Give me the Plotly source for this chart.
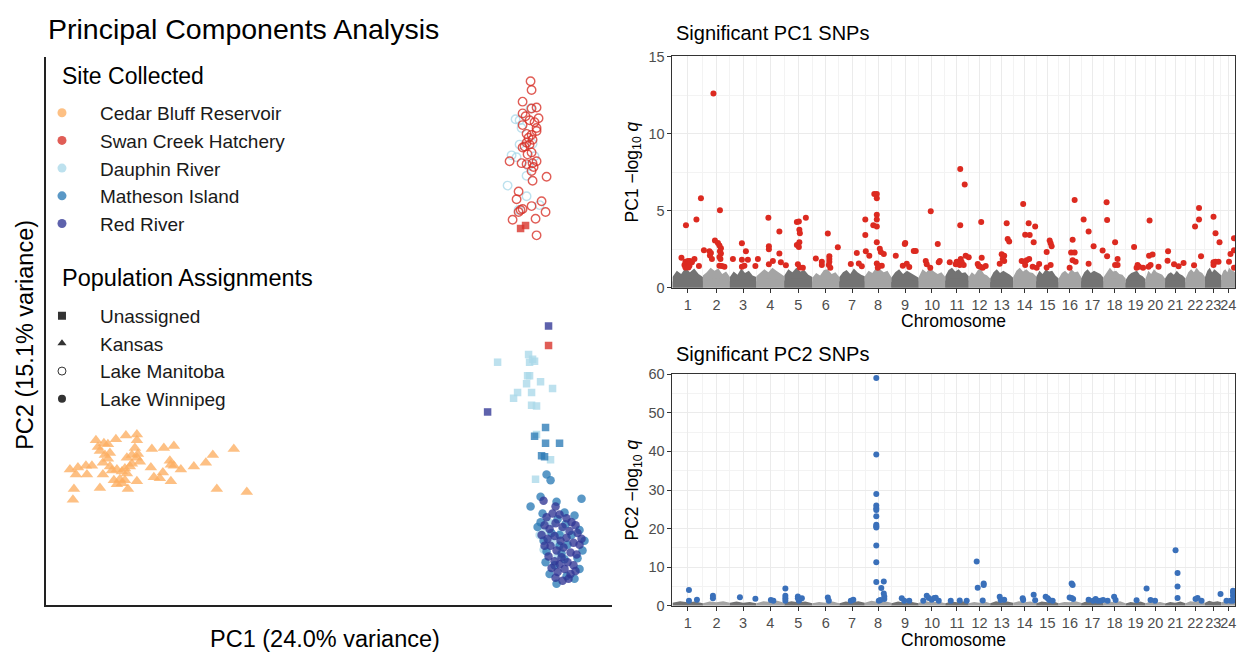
import numpy as np
import plotly.graph_objects as go

FONT = "Liberation Sans"
W, H = 1239, 660

# ---------------- PCA scores (arbitrary units) ----------------
site_names = ["Cedar Bluff Reservoir", "Swan Creek Hatchery", "Dauphin River",
              "Matheson Island", "Red River"]
site_colors = ["#FDAE61", "#D73027", "#ABD9E9", "#2C7BB6", "#313695"]
pop_names = ["Unassigned", "Kansas", "Lake Manitoba", "Lake Winnipeg"]
pop_symbols = ["square", "triangle-up", "circle-open", "circle"]

# Kansas / Cedar Bluff Reservoir
kansas_cedar_pc1 = [96, 104, 98, 108, 100, 105, 110, 108, 103, 110,
                    116, 126, 137, 137, 135, 138, 137, 140,
                    152, 164, 174, 234, 213, 206, 194, 181, 170, 171, 174,
                    151, 163, 154, 160, 171, 137, 128, 100, 74, 73, 217, 247,
                    70, 78, 86, 92, 76, 87, 103,
                    112, 117, 122, 125, 127, 130, 132,
                    114, 120, 125, 117, 122, 127, 132]
kansas_cedar_pc2 = [-443, -446, -450, -447, -454, -458, -456, -462, -466, -470,
                    -442, -438, -437, -443, -451, -457, -461, -465,
                    -452, -451, -449, -452, -458, -466, -470, -473, -464, -468, -469,
                    -471, -476, -481, -482, -485, -485, -493, -492, -493, -504, -493, -496,
                    -473, -471, -469, -469, -478, -478, -478,
                    -474, -473, -475, -472, -477, -470, -467,
                    -484, -483, -484, -488, -487, -461, -458]

# Lake Manitoba
manitoba_swan_pc1 = [531, 532, 523, 537, 532, 523, 526, 530, 539, 535,
                     523, 537, 537, 532, 527, 525, 523, 530, 532, 528,
                     537, 533, 534, 532, 510, 522, 527, 547, 533, 519,
                     517, 542, 532, 546, 523, 521, 519, 513, 536, 537,
                     533, 529, 527]
manitoba_swan_pc2 = [-75, -84, -96, -102, -103, -108, -111, -115, -113, -117,
                     -120, -123, -126, -130, -129, -142, -143, -140, -148, -150,
                     -157, -159, -163, -167, -157, -159, -160, -173, -177, -188,
                     -196, -198, -203, -209, -206, -207, -209, -217, -216, -233,
                     -135, -133, -138]
manitoba_dauphin_pc1 = [516, 520, 522, 531, 520, 533, 512, 517, 535, 527, 508, 527, 540, 519, 529]
manitoba_dauphin_pc2 = [-114, -115, -123, -103, -140, -139, -151, -153, -152, -172,
                        -182, -193, -202, -207, -162]

# Unassigned
unassigned_swan_pc1 = [521, 526, 549]
unassigned_swan_pc2 = [-226, -223, -346]
unassigned_red_pc1 = [549, 488]
unassigned_red_pc2 = [-326, -414]
unassigned_dauphin_pc1 = [498, 529, 533, 535, 530, 528, 530, 527, 541, 553, 518, 514,
                          532, 532, 537, 537, 551, 536]
unassigned_dauphin_pc2 = [-363, -355, -360, -362, -363, -377, -377, -385, -383, -390, -394, -400,
                          -394, -407, -408, -437, -463, -483]
unassigned_matheson_pc1 = [546, 535, 546, 560, 542, 545]
unassigned_matheson_pc2 = [-430, -439, -446, -446, -459, -460]

# Lake Winnipeg
winnipeg_matheson_pc1 = [547, 551, 541, 557, 531, 582, 565, 543, 558, 575, 541, 566, 580,
                         552, 572, 585, 544, 560, 568, 583, 547, 562, 578, 546, 555, 580,
                         550, 567, 575, 560, 565, 557, 538]
winnipeg_matheson_pc2 = [-478, -484, -501, -506, -511, -503, -517, -518, -524, -520, -527, -529, -535,
                         -538, -540, -546, -546, -551, -550, -556, -557, -559, -564, -568, -571, -575,
                         -580, -582, -585, -540, -565, -590, -532]
winnipeg_red_pc1 = [544, 556, 547, 553, 560, 567, 572, 576, 545, 550, 556, 563, 570, 578,
                    542, 548, 555, 561, 567, 574, 580, 551, 557, 564, 571, 577, 549, 555,
                    562, 568, 574, 552, 558, 565, 571, 556, 563, 569, 576, 545, 582, 560]
winnipeg_red_pc2 = [-505, -511, -522, -518, -519, -523, -527, -530, -530, -534, -528, -532, -536, -538,
                    -540, -544, -541, -546, -543, -548, -550, -551, -556, -553, -558, -560, -562, -567,
                    -563, -568, -571, -574, -578, -575, -580, -584, -587, -585, -577, -551, -544, -570]
winnipeg_dauphin_pc1 = [540, 545, 553, 550, 556, 548, 562, 558, 544]
winnipeg_dauphin_pc2 = [-540, -536, -528, -545, -548, -526, -536, -561, -555]

# ---------------- genome layout (Mb) ----------------
chrom_labels = [str(i) for i in range(1, 25)]
chrom_len = [61, 54, 53, 56, 56, 54, 51, 53, 55, 53, 47, 43,
             46, 46, 45, 45, 45, 44, 40, 39, 41, 39, 33, 27]

# PC1: significant SNPs (cumulative position, -log10 q)
pc1_sig_pos = [57, 27, 48, 95, 82, 18, 26, 31, 35, 39, 24, 29, 34, 26, 32, 44, 53, 63,
               85, 91, 94, 97, 95, 97, 94, 96, 77, 74, 75, 79,
               94, 99, 104, 121, 139, 147, 139, 151, 139, 144, 171, 166,
               192, 193, 193, 214, 214, 193, 201, 217, 227,
               249, 253, 254, 255, 249, 254, 253, 251, 255, 261,
               267, 287, 299, 299, 311, 314, 314, 314, 313, 316,
               331, 357, 369, 373, 379, 386, 386, 387, 394,
               404, 409, 409, 409, 402, 409, 409, 409, 415, 417, 423, 409, 414, 411, 419,
               447, 461, 465, 466, 469, 474, 483, 487, 507, 509, 516, 517, 531, 533, 535, 555, 567,
               576, 576, 585, 573, 577, 579, 575, 583, 569, 587, 593,
               611, 619, 616, 627, 621, 613, 618,
               655, 659, 664, 664, 661, 669, 671, 674,
               702, 706, 715, 713, 726, 723, 699, 704, 709, 714, 706, 721, 729, 734,
               749, 755, 757, 759, 749, 757,
               795, 801, 798, 805, 801, 807, 805,
               823, 833, 833, 843, 861, 869, 870, 870, 886, 891, 886, 891,
               924, 931, 929, 934, 942, 953, 957, 954, 961, 955, 973,
               991, 992, 1004, 1013, 1023, 1044, 1046, 1054, 1054, 1058,
               1083, 1087, 1083, 1083, 1087, 1095, 1093, 1114, 1117, 1124, 1124, 1124]
pc1_sig_q = [5.80, 4.05, 4.43, 5.02, 12.6, 1.94, 1.69, 1.73, 1.73, 1.65, 1.48, 1.37, 1.43, 1.32, 1.32, 1.86, 1.41, 2.43,
             3.06, 2.91, 2.74, 2.57, 2.36, 2.22, 2.00, 1.86, 2.26, 2.36, 2.10, 1.86,
             1.43, 1.41, 1.37, 1.86, 2.89, 2.36, 1.81, 1.81, 1.37, 1.43, 1.86, 1.41,
             4.54, 2.70, 2.49, 3.65, 2.22, 1.52, 1.73, 1.65, 1.46,
             4.26, 4.30, 3.76, 3.54, 2.78, 2.95, 2.64, 1.52, 1.31, 1.30,
             4.54, 1.90, 1.69, 1.48, 3.52, 2.05, 1.86, 1.69, 1.48, 1.30,
             2.62, 1.54, 2.26, 1.58, 1.39, 4.43, 3.42, 2.36, 2.07,
             6.08, 6.08, 5.80, 4.73, 4.05, 3.97, 4.43, 2.95, 2.53, 2.32, 2.19, 1.58, 1.43, 1.30, 1.43,
             2.07, 1.43, 2.83, 2.91, 1.56, 1.35, 2.38, 2.38, 1.73, 1.52, 1.30, 4.96, 2.83, 1.65, 1.73, 1.65, 1.52,
             4.05, 7.70, 6.69, 1.65, 1.86, 1.65, 1.48, 1.48, 1.69, 2.07, 1.98,
             1.54, 1.94, 1.37, 1.41, 1.30, 1.41, 4.26,
             1.56, 2.17, 2.07, 1.73, 1.86, 4.18, 3.16, 3.00,
             5.44, 3.44, 3.42, 4.18, 3.97, 2.95, 1.73, 1.69, 1.79, 1.86, 1.48, 1.37, 1.30, 1.54,
             2.32, 3.06, 2.89, 2.70, 1.31, 1.48,
             1.30, 3.12, 2.28, 2.28, 1.79, 1.69, 5.70,
             4.43, 3.65, 1.56, 2.70, 2.41, 5.55, 4.39, 2.05, 2.95, 1.86, 1.48, 1.48,
             2.64, 1.48, 1.30, 1.37, 1.30, 1.37, 1.48, 2.07, 2.15, 4.37, 1.37,
             1.75, 2.36, 1.52, 1.39, 1.60, 1.46, 3.97, 4.43, 5.17, 2.05,
             1.65, 1.69, 1.48, 4.60, 3.54, 2.95, 1.69, 1.69, 2.19, 2.43, 3.21, 1.30]

# PC2: significant SNPs
pc2_sig_pos = [33, 33, 49, 81, 81, 135, 166, 197, 202, 226, 226, 226, 226, 251, 251, 255, 259, 253,
               311, 313, 357, 362,
               408, 408, 408, 408, 408, 408, 408, 408, 408, 408, 408, 408, 408,
               423, 418, 423, 424, 424, 413, 416,
               459, 464, 474, 502, 509, 513, 519, 524, 527, 533, 557,
               575, 589, 609, 611, 623, 623, 621, 655, 657, 664, 701, 702, 723, 726,
               747, 751, 754, 761, 795, 799, 802, 799, 801, 833, 842, 847, 851, 857, 862, 871,
               884, 887, 929, 949, 957, 966, 1007, 1011, 1011, 1011, 1047, 1051, 1059,
               1097, 1109, 1117, 1122, 1122, 1122, 1122]
pc2_sig_q = [4.1, 1.35, 1.6, 2.6, 1.94, 2.2, 1.85, 1.52, 1.35, 4.47, 2.6, 1.94, 1.35, 2.44, 1.94, 1.77, 1.94, 1.35,
             2.19, 1.35, 1.35, 1.6,
             59.0, 39.2, 29.0, 26.0, 25.3, 24.8, 23.2, 21.0, 20.6, 20.3, 15.6, 11.3, 6.2,
             6.3, 4.6, 3.2, 2.44, 1.77, 1.35, 1.52,
             1.94, 1.35, 1.35, 1.35, 2.6, 2.02, 1.6, 2.02, 2.1, 1.35, 1.35,
             1.4, 1.35, 11.5, 4.7, 5.8, 5.4, 1.4, 2.36, 1.52, 1.6, 1.94, 1.52, 2.86, 1.43,
             2.36, 1.94, 1.52, 1.35, 2.19, 2.02, 1.77, 5.8, 5.4, 1.6, 1.35, 1.77, 1.35, 1.35, 1.52, 1.35,
             2.36, 1.52, 1.43, 4.5, 1.52, 1.35, 14.4, 8.5, 5.0, 2.02, 1.77, 2.02, 1.35,
             3.1, 1.35, 1.35, 2.6, 3.45, 3.9, 1.35]

# Non-significant SNP cloud per chromosome (-log10 q): ragged upper edge and dense core
pc1_grey_upper = [
    [0.7, 1.1, 0.9, 1.3, 1.0, 1.25, 0.9, 0.7], [0.8, 1.0, 1.3, 1.1, 1.25, 0.9, 1.05, 0.7],
    [0.7, 1.05, 0.85, 1.25, 0.95, 1.1, 0.8, 0.7], [0.75, 0.95, 1.2, 1.0, 1.3, 1.1, 0.9, 0.75],
    [0.8, 1.2, 1.0, 1.3, 1.05, 1.15, 0.85, 0.7], [0.65, 0.95, 0.8, 1.15, 1.2, 0.9, 1.0, 0.7],
    [0.7, 1.0, 1.15, 0.9, 1.25, 1.0, 0.85, 0.75], [0.75, 1.1, 0.95, 1.3, 1.2, 1.0, 1.1, 0.7],
    [0.65, 1.0, 1.2, 0.9, 1.1, 0.95, 0.85, 0.65], [0.7, 1.2, 1.0, 1.3, 1.05, 0.9, 1.0, 0.7],
    [0.75, 1.15, 1.3, 1.05, 1.2, 0.95, 1.0, 0.75], [0.7, 1.0, 0.85, 1.15, 1.2, 0.9, 0.8, 0.6],
    [0.6, 1.0, 1.2, 0.95, 1.1, 1.0, 0.85, 0.65], [0.7, 1.1, 1.3, 1.05, 1.2, 1.0, 0.95, 0.75],
    [0.7, 1.1, 0.9, 1.2, 1.05, 1.1, 0.8, 0.6], [0.6, 0.95, 1.1, 0.9, 1.2, 1.0, 1.05, 0.7],
    [0.6, 1.0, 1.2, 0.95, 1.1, 1.0, 0.9, 0.65], [0.7, 1.0, 1.3, 1.05, 1.1, 0.9, 0.85, 0.6],
    [0.5, 0.8, 0.95, 1.0, 1.1, 0.85, 0.75, 0.55], [0.6, 1.1, 0.9, 1.2, 1.0, 0.9, 0.85, 0.6],
    [0.6, 0.9, 1.0, 0.85, 1.1, 0.9, 0.8, 0.6], [0.6, 1.0, 1.2, 1.0, 1.3, 1.05, 0.95, 0.7],
    [0.7, 1.1, 1.3, 1.0, 1.2, 1.05, 0.95, 0.8], [0.8, 1.1, 1.2, 1.0, 1.3, 1.15, 1.1, 1.0]]
pc1_grey_core = [
    [0.4, 0.55, 0.6, 0.55, 0.4], [0.4, 0.55, 0.6, 0.55, 0.4], [0.4, 0.5, 0.55, 0.5, 0.4],
    [0.4, 0.55, 0.6, 0.55, 0.45], [0.45, 0.6, 0.6, 0.55, 0.4], [0.35, 0.5, 0.55, 0.5, 0.4],
    [0.4, 0.5, 0.55, 0.55, 0.4], [0.45, 0.55, 0.6, 0.55, 0.4], [0.35, 0.5, 0.55, 0.5, 0.4],
    [0.4, 0.55, 0.6, 0.5, 0.4], [0.45, 0.6, 0.6, 0.55, 0.45], [0.4, 0.5, 0.55, 0.5, 0.35],
    [0.35, 0.5, 0.55, 0.5, 0.4], [0.45, 0.55, 0.6, 0.55, 0.45], [0.4, 0.55, 0.55, 0.5, 0.35],
    [0.35, 0.5, 0.55, 0.55, 0.4], [0.4, 0.5, 0.55, 0.5, 0.4], [0.4, 0.55, 0.6, 0.5, 0.35],
    [0.3, 0.45, 0.5, 0.45, 0.35], [0.35, 0.5, 0.55, 0.5, 0.35], [0.35, 0.45, 0.5, 0.45, 0.35],
    [0.4, 0.55, 0.6, 0.55, 0.45], [0.45, 0.55, 0.6, 0.55, 0.5], [0.5, 0.6, 0.6, 0.6, 0.55]]
pc2_grey_upper = [
    [0.8, 1.2, 0.9, 1.1, 0.7], [0.7, 1.1, 0.9, 1.2, 0.8], [0.8, 1.1, 0.8, 1.0, 0.7],
    [0.7, 1.2, 1.0, 1.3, 0.8], [0.8, 1.2, 0.9, 1.1, 0.7], [0.7, 1.0, 0.8, 1.1, 0.7],
    [0.7, 1.1, 0.9, 1.2, 0.8], [0.8, 1.3, 1.0, 1.2, 0.8], [0.7, 1.1, 0.8, 1.0, 0.7],
    [0.8, 1.2, 0.9, 1.1, 0.7], [0.7, 1.1, 0.9, 1.2, 0.7], [0.7, 1.0, 0.8, 1.1, 0.7],
    [0.7, 1.2, 0.9, 1.1, 0.8], [0.8, 1.2, 0.9, 1.1, 0.7], [0.7, 1.1, 0.9, 1.2, 0.7],
    [0.7, 1.0, 0.9, 1.2, 0.8], [0.7, 1.2, 0.9, 1.1, 0.7], [0.8, 1.1, 0.9, 1.2, 0.7],
    [0.6, 1.0, 0.8, 1.1, 0.7], [0.7, 1.1, 0.8, 1.0, 0.7], [0.6, 1.0, 0.8, 1.1, 0.7],
    [0.7, 1.2, 1.0, 1.3, 0.8], [0.8, 1.3, 1.0, 1.2, 0.9], [0.9, 1.2, 1.0, 1.3, 1.1]]

# ---------------- derived axis positions ----------------
chrom_len_arr = np.array(chrom_len, dtype=float)
chrom_start = np.concatenate([[0.0], np.cumsum(chrom_len_arr)[:-1]])
chrom_mid = chrom_start + chrom_len_arr / 2
genome_len = float(chrom_len_arr.sum())
minor_x = np.concatenate([[chrom_mid[0] - (chrom_mid[1] - chrom_mid[0]) / 2],
                          (chrom_mid[:-1] + chrom_mid[1:]) / 2])

GREY_DARK = "#737373"
GREY_LIGHT = "#a4a4a4"
RED = "#DC2A20"
BLUE = "#3A70BA"


def px_x(p):
    return p / W


def px_y(p):
    return 1 - p / H


fig = go.Figure()

# ---------------- PCA scatter ----------------
ALPHA = 0.78


def pca_trace(x, y, color, symbol, size):
    if symbol == "circle-open":
        marker = dict(color=color, symbol=symbol, size=size, opacity=ALPHA,
                      line=dict(color=color, width=1.4))
    else:
        marker = dict(color=color, symbol=symbol, size=size, opacity=ALPHA, line=dict(width=0))
    return go.Scatter(x=x, y=y, mode="markers", marker=marker, showlegend=False,
                      hoverinfo="skip", xaxis="x", yaxis="y")


fig.add_trace(pca_trace(kansas_cedar_pc1, kansas_cedar_pc2, site_colors[0], "triangle-up", 11))
fig.add_trace(pca_trace(manitoba_dauphin_pc1, manitoba_dauphin_pc2, site_colors[2], "circle-open", 8.5))
fig.add_trace(pca_trace(manitoba_swan_pc1, manitoba_swan_pc2, site_colors[1], "circle-open", 8.5))
fig.add_trace(pca_trace(unassigned_dauphin_pc1, unassigned_dauphin_pc2, site_colors[2], "square", 7.5))
fig.add_trace(pca_trace(unassigned_matheson_pc1, unassigned_matheson_pc2, site_colors[3], "square", 7.5))
fig.add_trace(pca_trace(unassigned_swan_pc1, unassigned_swan_pc2, site_colors[1], "square", 7.5))
fig.add_trace(pca_trace(unassigned_red_pc1, unassigned_red_pc2, site_colors[4], "square", 7.5))
fig.add_trace(pca_trace(winnipeg_dauphin_pc1, winnipeg_dauphin_pc2, site_colors[2], "circle", 8.5))
fig.add_trace(pca_trace(winnipeg_matheson_pc1, winnipeg_matheson_pc2, site_colors[3], "circle", 8.5))
fig.add_trace(pca_trace(winnipeg_red_pc1, winnipeg_red_pc2, site_colors[4], "circle", 8.5))

# legend entries
for name, col in zip(site_names, site_colors):
    fig.add_trace(go.Scatter(x=[None], y=[None], mode="markers", name=name,
                             marker=dict(color=col, size=9, opacity=ALPHA, symbol="circle"),
                             legend="legend", xaxis="x", yaxis="y"))
for name, sym in zip(pop_names, pop_symbols):
    mk = dict(color="#333333", size=8, symbol=sym)
    if sym == "circle-open":
        mk["line"] = dict(color="#333333", width=1)
    fig.add_trace(go.Scatter(x=[None], y=[None], mode="markers", name=name, marker=mk,
                             legend="legend2", xaxis="x", yaxis="y"))


# ---------------- Manhattan panels ----------------
def grey_cloud(upper, core, xa, ya, outer_opacity):
    for i in range(len(chrom_len)):
        col = GREY_DARK if i % 2 == 0 else GREY_LIGHT
        s, e = chrom_start[i], chrom_start[i] + chrom_len_arr[i]
        xs = np.linspace(s, e, len(upper[i]))
        fig.add_trace(go.Scatter(
            x=xs, y=upper[i], mode="lines", line=dict(width=0), fill="tozeroy",
            fillcolor=col, opacity=outer_opacity,
            showlegend=False, hoverinfo="skip", xaxis=xa, yaxis=ya))
        if core is not None:
            xc = np.linspace(s, e, len(core[i]))
            fig.add_trace(go.Scatter(
                x=xc, y=core[i], mode="lines", line=dict(width=0), fill="tozeroy",
                fillcolor=col, opacity=0.9, showlegend=False, hoverinfo="skip",
                xaxis=xa, yaxis=ya))


grey_cloud(pc1_grey_upper, pc1_grey_core, "x2", "y2", 0.45)
fig.add_trace(go.Scatter(x=pc1_sig_pos, y=pc1_sig_q, mode="markers",
                         marker=dict(color=RED, size=6, line=dict(width=0)),
                         showlegend=False, xaxis="x2", yaxis="y2"))

grey_cloud(pc2_grey_upper, None, "x3", "y3", 0.85)
fig.add_trace(go.Scatter(x=pc2_sig_pos, y=pc2_sig_q, mode="markers",
                         marker=dict(color=BLUE, size=6, line=dict(width=0)),
                         showlegend=False, xaxis="x3", yaxis="y3"))

# ---------------- layout ----------------
panel_x = [px_x(673), px_x(1236)]
man_x = dict(
    domain=panel_x, range=[0, genome_len], showline=True, mirror=True, linecolor="#333333",
    linewidth=1, ticks="outside", ticklen=4, tickcolor="#333333", tickwidth=1,
    tickmode="array", tickvals=chrom_mid, ticktext=chrom_labels, tickangle=0,
    tickfont=dict(family=FONT, size=14.5, color="#4d4d4d"),
    showgrid=True, gridcolor="#ebebeb", gridwidth=1.3, zeroline=False,
    minor=dict(tickmode="array", tickvals=minor_x, showgrid=True, gridcolor="#f3f3f3",
               gridwidth=0.7, ticks=""),
)
man_y = dict(
    showline=True, mirror=True, linecolor="#333333", linewidth=1, ticks="outside",
    ticklen=4, tickcolor="#333333", tickwidth=1,
    tickfont=dict(family=FONT, size=14.5, color="#4d4d4d"),
    showgrid=True, gridcolor="#ebebeb", gridwidth=1.3, zeroline=False,
)

fig.update_layout(
    width=W, height=H, margin=dict(l=0, r=0, t=0, b=0),
    paper_bgcolor="white", plot_bgcolor="white",
    font=dict(family=FONT, color="#000000"),
    xaxis=dict(domain=[px_x(46), px_x(612)], range=[46, 612], showline=True,
               linecolor="#222222", linewidth=1.5, showticklabels=False, ticks="",
               showgrid=False, zeroline=False),
    yaxis=dict(domain=[px_y(612), px_y(50)], range=[-612, -50], showline=True,
               linecolor="#222222", linewidth=1.5, showticklabels=False, ticks="",
               showgrid=False, zeroline=False),
    xaxis2=dict(man_x, anchor="y2"),
    yaxis2=dict(man_y, anchor="x2", domain=[px_y(286.7), px_y(49.7)], range=[0, 15],
                tickvals=[0, 5, 10, 15],
                minor=dict(tickvals=[2.5, 7.5, 12.5], showgrid=True, gridcolor="#f3f3f3",
                           gridwidth=0.7, ticks="")),
    xaxis3=dict(man_x, anchor="y3"),
    yaxis3=dict(man_y, anchor="x3", domain=[px_y(612.7), px_y(375.3)], range=[0, 60],
                tickvals=[0, 10, 20, 30, 40, 50, 60],
                minor=dict(tickvals=[5, 15, 25, 35, 45, 55], showgrid=True, gridcolor="#f3f3f3",
                           gridwidth=0.7, ticks="")),
    legend=dict(x=px_x(24), y=px_y(88), xanchor="left", yanchor="top",
                font=dict(family=FONT, size=19, color="#1a1a1a"),
                bgcolor="rgba(0,0,0,0)", itemwidth=66, tracegroupgap=0),
    legend2=dict(x=px_x(24), y=px_y(296), xanchor="left", yanchor="top",
                 font=dict(family=FONT, size=19, color="#1a1a1a"),
                 bgcolor="rgba(0,0,0,0)", itemwidth=66, tracegroupgap=0),
)


def label(text, x, y, size, xanchor="left", angle=0, color="#000000"):
    fig.add_annotation(text=text, x=x, y=y, xref="paper", yref="paper", showarrow=False,
                       xanchor=xanchor, yanchor="middle", textangle=angle,
                       font=dict(family=FONT, size=size, color=color))


label("Principal Components Analysis", px_x(46), px_y(22), 28.5)
label("Site Collected", px_x(60), px_y(70), 23)
label("Population Assignments", px_x(60), px_y(277), 23.5)
label("PC1 (24.0% variance)", px_x(325), px_y(647), 23.5, xanchor="center")
label("PC2 (15.1% variance)", px_x(25), px_y(335), 23.5, xanchor="center", angle=-90)
label("Significant PC1 SNPs", px_x(675), px_y(26), 20)
label("Significant PC2 SNPs", px_x(675), px_y(355), 20)
label("Chromosome", px_x(954.5), px_y(321), 17.5, xanchor="center")
label("Chromosome", px_x(954.5), px_y(648), 17.5, xanchor="center")
label("PC1 \u2212log<sub>10</sub> <i>q</i>", px_x(634), px_y(168), 17.5, xanchor="center", angle=-90)
label("PC2 \u2212log<sub>10</sub> <i>q</i>", px_x(634), px_y(494), 17.5, xanchor="center", angle=-90)

fig.write_html("out.html")
